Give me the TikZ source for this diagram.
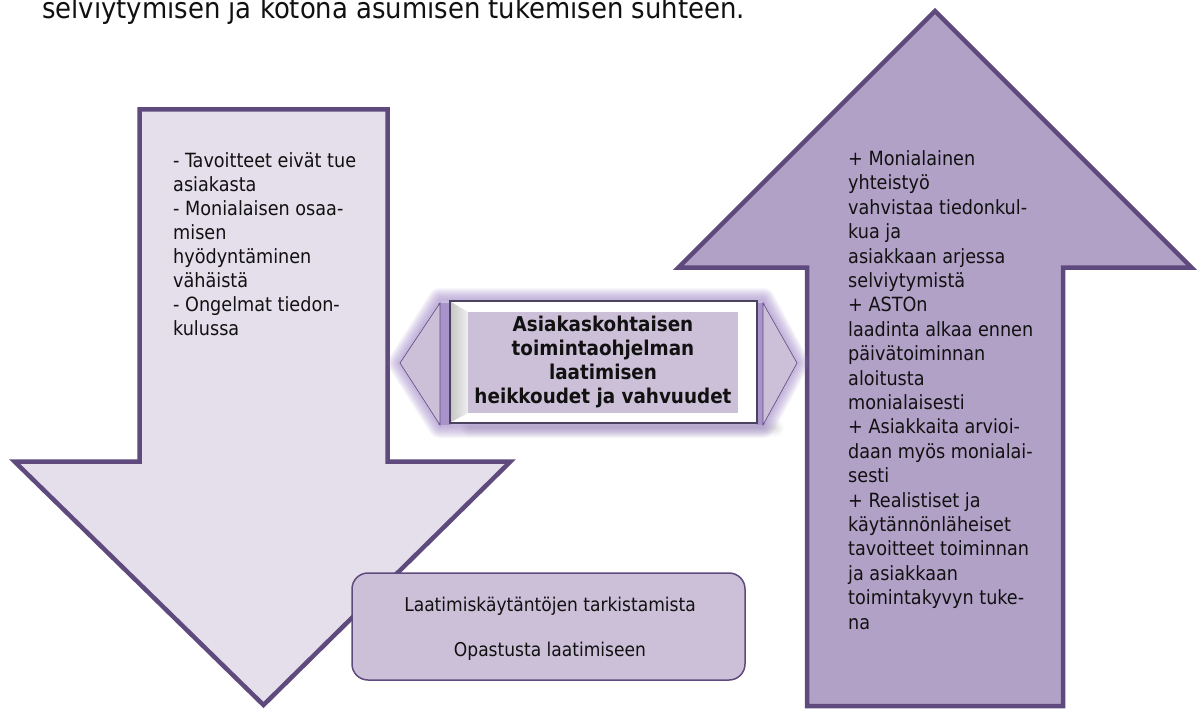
\documentclass[tikz,border=0pt]{standalone}
\usepackage{fontspec}
\setmainfont{DejaVu Sans Condensed}
\usetikzlibrary{calc}
\definecolor{dkp}{HTML}{5E4A7C}
\definecolor{ltA}{HTML}{E5DFEC}
\definecolor{ltB}{HTML}{B2A1C7}
\definecolor{ltC}{HTML}{CCC0D9}
\definecolor{glowc}{HTML}{9A80C2}
\definecolor{boxbd}{HTML}{4B4260}
\definecolor{txtc}{HTML}{111111}
\tikzset{
  bigarrow/.style={draw=dkp, line width=4.5pt, line join=miter},
  bodytxt/.style={font=\fontsize{19.6}{24}\selectfont, align=left, inner sep=0pt, text=txtc},
  bodytxtR/.style={font=\fontsize{19.6}{24.4}\selectfont, align=left, inner sep=0pt, text=txtc},
  centtxt/.style={font=\bfseries\fontsize{20.4}{24}\selectfont, align=center, inner sep=0pt, text=txtc},
  boxtxt/.style={font=\fontsize{19}{45}\selectfont, align=center, inner sep=0pt, text=txtc},
  tri/.style={fill=ltC, draw=dkp, line width=0.6pt, line join=miter},
}
\begin{document}
\begin{tikzpicture}[x=1pt,y=-1pt]
\useasboundingbox (0,0) rectangle (1198,711);
\clip (0,0) rectangle (1198,711);

% top text (cut by the picture's top edge, as in the reference)
\node[anchor=base west, inner sep=0pt, font=\fontsize{28.8}{34}\selectfont, text=txtc] (toptxt) at (42,19)
  {selviytymisen ja kotona asumisen tukemisen suhteen.};

% left down arrow
\draw[bigarrow, fill=ltA] (139.5,109.5) -- (387.5,109.5) -- (387.5,461.5) -- (510.5,461.5)
  -- (263.5,705) -- (14.5,461.5) -- (139.5,461.5) -- cycle;

% right up arrow
\draw[bigarrow, fill=ltB] (807,706) -- (807,267.5) -- (678.5,267.5) -- (935,11)
  -- (1191.5,267.5) -- (1063,267.5) -- (1063,706) -- cycle;

% center element: shadow + glow
\foreach \i in {1,...,10}
  \draw[black, line width=1.8*\i pt, draw opacity=0.012, line join=round, line cap=round]
    (470,428) -- (775,428);
\foreach \i in {1,...,12}
  \draw[glowc, line width=2*\i pt, draw opacity=0.07, line join=round]
    (400,363) -- (440,300) -- (763,300) -- (797,363) -- (763,426) -- (440,426) -- cycle;
\fill[glowc!85] (438,303) rectangle (451,425);
\fill[glowc!85] (756,303) rectangle (765,425);

\draw[tri] (400,363) -- (440,303) -- (440,425) -- cycle;
\draw[tri] (763,303) -- (797,363) -- (763,425) -- cycle;

\draw[boxbd, line width=2pt, fill=white] (450,301) rectangle (757,423);
\shade[left color=black!22, right color=black!6] (451,302) -- (468,312) -- (468,413) -- (451,422) -- cycle;
\fill[ltC] (468,312) rectangle (738,413);
\node[centtxt] (center) at (603,362)
  {Asiakaskohtaisen\\toimintaohjelman\\laatimisen\\heikkoudet ja vahvuudet};

% texts in arrows
\node[bodytxt, anchor=north west] (lefttxt) at (173,152.5)
  {- Tavoitteet eivät tue\\asiakasta\\- Monialaisen osaa-\\misen\\hyödyntäminen\\vähäistä\\- Ongelmat tiedon-\\kulussa};
\node[bodytxtR, anchor=north west] (righttxt) at (848,150.5)
  {+ Monialainen\\yhteistyö\\vahvistaa tiedonkul-\\kua ja\\asiakkaan arjessa\\selviytymistä\\+ ASTOn\\laadinta alkaa ennen\\päivätoiminnan\\aloitusta\\monialaisesti\\+ Asiakkaita arvioi-\\daan myös monialai-\\sesti\\+ Realistiset ja\\käytännönläheiset\\tavoitteet toiminnan\\ja asiakkaan\\toimintakyvyn tuke-\\na};

% bottom box
\draw[draw=dkp, line width=1.5pt, fill=ltC, rounded corners=16pt] (352,573) rectangle (745,680);
\node[boxtxt] (boxtext) at (550,629)
  {Laatimiskäytäntöjen tarkistamista\\Opastusta laatimiseen};
\end{tikzpicture}
\end{document}
